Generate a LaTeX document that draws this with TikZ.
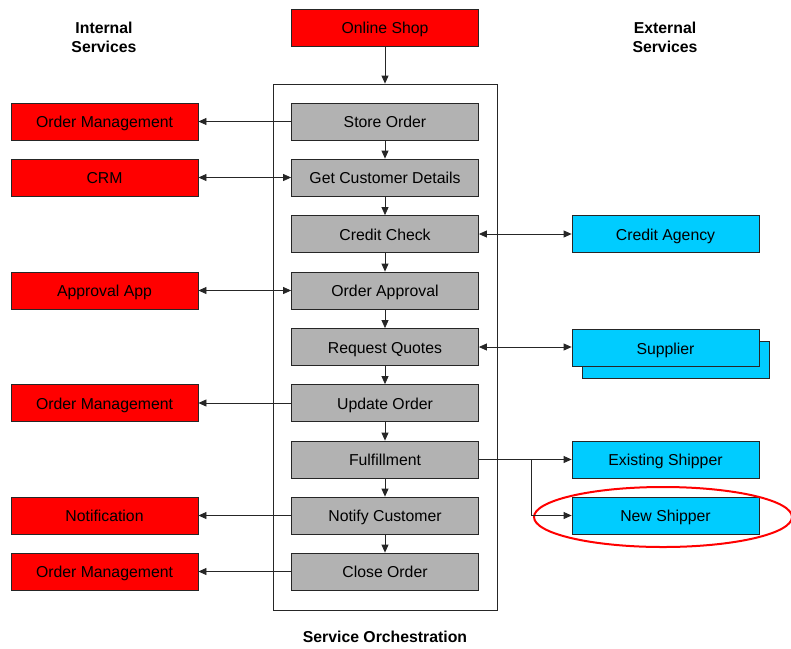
\documentclass[tikz,border=0pt]{standalone}
\usepackage{fontspec}
\setmainfont{Liberation Sans}
\usetikzlibrary{arrows.meta,shapes.geometric}

\definecolor{intred}{HTML}{FF0000}
\definecolor{stepgray}{HTML}{B2B2B2}
\definecolor{extblue}{HTML}{00CCFF}

\tikzset{
  box/.style={draw=black!85, line width=0.8pt, minimum width=187pt, minimum height=37pt,
    inner sep=0pt, text height=12pt, text depth=0pt, font=\fontsize{15.8}{19}\selectfont},
  internal/.style={box, fill=intred},
  stepbox/.style={box, fill=stepgray},
  external/.style={box, fill=extblue},
  heading/.style={font=\fontsize{15.8}{19}\selectfont\bfseries, align=center},
  conn/.style={draw=black!85, line width=0.8pt, -{Triangle[length=8pt,width=7pt]}},
  biconn/.style={draw=black!85, line width=0.8pt, {Triangle[length=8pt,width=7pt]}-{Triangle[length=8pt,width=7pt]}},
}

\begin{document}
\begin{tikzpicture}[x=1pt,y=-1pt]
\useasboundingbox (0,0) rectangle (791,648);

% column headings
\node[heading] (inthead) at (104,37) {Internal\\Services};
\node[heading] (exthead) at (665,37) {External\\Services};
\node[heading] (orchhead) at (385,637) {Service Orchestration};

% orchestration frame
\node[draw=black!85, line width=0.8pt, minimum width=224pt, minimum height=526pt, inner sep=0pt] (orch) at (385,347) {};

% entry point
\node[internal] (shop) at (385,27.5) {Online Shop};

% orchestration steps
\node[stepbox] (store)    at (385,121.5) {Store Order};
\node[stepbox] (details)  at (385,177.5) {Get Customer Details};
\node[stepbox] (credit)   at (385,234)   {Credit Check};
\node[stepbox] (approval) at (385,290.5) {Order Approval};
\node[stepbox] (quotes)   at (385,347)   {Request Quotes};
\node[stepbox] (update)   at (385,403)   {Update Order};
\node[stepbox] (fulfil)   at (385,459.5) {Fulfillment};
\node[stepbox] (notify)   at (385,515.5) {Notify Customer};
\node[stepbox] (close)    at (385,571.5) {Close Order};

% internal services
\node[internal] (om1)   at (104.5,121.5) {Order Management};
\node[internal] (crm)   at (104.5,177.5) {CRM};
\node[internal] (app)   at (104.5,290.5) {Approval App};
\node[internal] (om2)   at (104.5,403)   {Order Management};
\node[internal] (notif) at (104.5,515.5) {Notification};
\node[internal] (om3)   at (104.5,571.5) {Order Management};

% external services
\node[external] (agency)   at (665.5,234)   {Credit Agency};
\node[external] (supback)  at (675.5,360)   {};
\node[external] (supplier) at (665.5,348)   {Supplier};
\node[external] (existing) at (665.5,459.5) {Existing Shipper};
\node[external] (newship)  at (665.5,515.5) {New Shipper};

% highlight around the new shipper
\draw[intred, line width=2pt] (663,517) ellipse [x radius=129pt, y radius=30pt];

% flow through the orchestration
\draw[conn] (shop) -- (orch.north);
\draw[conn] (store) -- (details);
\draw[conn] (details) -- (credit);
\draw[conn] (credit) -- (approval);
\draw[conn] (approval) -- (quotes);
\draw[conn] (quotes) -- (update);
\draw[conn] (update) -- (fulfil);
\draw[conn] (fulfil) -- (notify);
\draw[conn] (notify) -- (close);

% calls to internal services
\draw[conn] (store) -- (om1);
\draw[biconn] (crm) -- (details);
\draw[biconn] (app) -- (approval);
\draw[conn] (update) -- (om2);
\draw[conn] (notify) -- (notif);
\draw[conn] (close) -- (om3);

% calls to external services
\draw[biconn] (credit) -- (agency);
\draw[biconn] (quotes.east) -- (quotes.east -| supplier.west);
\draw[conn] (fulfil) -- (existing);
\coordinate (branch) at (531,459.5);
\draw[conn] (branch) |- (newship);
\end{tikzpicture}
\end{document}
